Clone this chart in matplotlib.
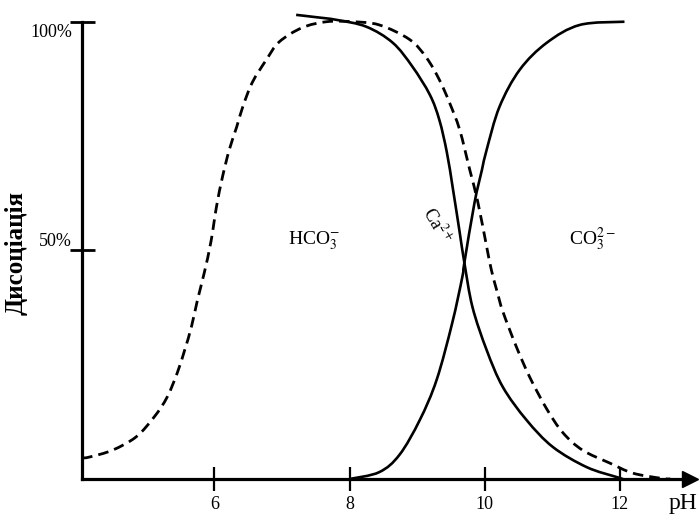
# Діаграма дисоціації: частки HCO3-, CO3 2- та Ca2+ залежно від pH
import matplotlib
matplotlib.use("Agg")
import matplotlib.pyplot as plt
from matplotlib.path import Path
from matplotlib.patches import PathPatch

plt.rcParams["font.family"] = ["Liberation Serif", "DejaVu Serif"]
plt.rcParams["mathtext.fontset"] = "stix"

# --- дані (pH, %) ---
hco3_ph = [4.04, 4.15, 4.49, 4.84, 5.11, 5.30, 5.45, 5.56, 5.66, 5.75, 5.85,
           5.95, 6.03, 6.12, 6.22, 6.33, 6.42, 6.56, 6.77, 6.96, 7.30, 7.66,
           8.04, 8.44, 8.89, 9.14, 9.33, 9.48, 9.63, 9.78, 9.90, 10.03, 10.10,
           10.19, 10.27, 10.47, 10.67, 10.92, 11.16, 11.45, 11.85, 12.19,
           12.59, 12.75]
hco3_pct = [4.6, 4.8, 6.3, 9.2, 13.6, 17.9, 23.2, 28.2, 33.3, 39.2, 45.1,
            52.0, 59.5, 66.1, 72.0, 77.0, 81.4, 86.7, 91.7, 95.6, 98.7, 100.0,
            100.0, 99.3, 96.1, 92.1, 87.3, 82.3, 76.4, 67.6, 60.5, 50.8, 45.7,
            40.7, 36.6, 28.9, 22.2, 15.3, 10.1, 6.3, 3.5, 1.3, 0.2, 0.0]

ca_ph = [7.21, 7.50, 7.81, 8.25, 8.64, 8.93, 9.19, 9.33, 9.44, 9.53, 9.63,
         9.70, 9.82, 10.03, 10.27, 10.62, 11.01, 11.51, 11.96, 12.05]
ca_pct = [101.5, 101.0, 100.4, 98.9, 95.4, 90.2, 84.0, 78.5, 71.5, 63.5, 54.0,
          47.3, 37.6, 28.2, 20.1, 12.9, 7.0, 2.6, 0.4, 0.0]

co3_ph = [8.00, 8.44, 8.74, 9.04, 9.29, 9.52, 9.67, 9.70, 9.85, 9.96, 10.03,
          10.22, 10.52, 10.92, 11.41, 12.07]
co3_pct = [0.0, 1.5, 5.3, 12.9, 21.7, 34.1, 44.2, 47.3, 60.4, 67.6, 72.0,
           81.4, 89.5, 95.4, 99.3, 100.0]

x_ticks = [6, 8, 10, 12]
y_ticks = [50, 100]
y_tick_labels = ["50%", "100%"]


def smooth_path(xs, ys):
    """Крива Катмулла-Рома через зчитані точки (кубічні сегменти Безьє)."""
    pts = list(zip(xs, ys))
    verts = [pts[0]]
    codes = [Path.MOVETO]
    n = len(pts)
    for i in range(n - 1):
        p0 = pts[i - 1] if i > 0 else pts[i]
        p1 = pts[i]
        p2 = pts[i + 1]
        p3 = pts[i + 2] if i + 2 < n else pts[i + 1]
        c1 = (p1[0] + (p2[0] - p0[0]) / 6, p1[1] + (p2[1] - p0[1]) / 6)
        c2 = (p2[0] - (p3[0] - p1[0]) / 6, p2[1] - (p3[1] - p1[1]) / 6)
        verts += [c1, c2, p2]
        codes += [Path.CURVE4] * 3
    return Path(verts, codes)


fig = plt.figure(figsize=(6.99, 5.15), dpi=100)
W, H = 699, 515
ax = fig.add_axes([82 / W, (H - 479) / H, (690 - 82) / W, (479 - 8) / H])
ax.set_xlim(4.04, 13.04)
ax.set_ylim(0, 103)

ax.add_patch(PathPatch(smooth_path(hco3_ph, hco3_pct), fill=False,
                       edgecolor="black", lw=2.0, linestyle=(0, (3.8, 2.2)),
                       capstyle="butt"))
ax.add_patch(PathPatch(smooth_path(ca_ph, ca_pct), fill=False,
                       edgecolor="black", lw=1.9))
ax.add_patch(PathPatch(smooth_path(co3_ph, co3_pct), fill=False,
                       edgecolor="black", lw=1.9))

# осі
for s in ["top", "right"]:
    ax.spines[s].set_visible(False)
ax.spines["left"].set_linewidth(2.3)
ax.spines["bottom"].set_linewidth(2.3)
ax.spines["left"].set_bounds(0, 100)
ax.plot([1], [0], marker=">", color="black", markersize=11,
        transform=ax.transAxes, clip_on=False)

ax.set_xticks(x_ticks)
ax.set_xticklabels([str(t) for t in x_ticks], fontsize=13)
ax.tick_params(axis="x", direction="inout", length=17, width=1.6, pad=4)
ax.set_yticks(y_ticks)
ax.set_yticklabels([])
ax.tick_params(axis="y", direction="inout", length=18, width=2.0)

ax.text(-10 / 608, 52.0, y_tick_labels[0], transform=ax.get_yaxis_transform(),
        ha="right", va="center", fontsize=13)
ax.text(-10 / 608, 97.6, y_tick_labels[1], transform=ax.get_yaxis_transform(),
        ha="right", va="center", fontsize=13)

fig.text(16 / W, 1 - 253 / H, "Дисоціація", rotation=90, ha="center",
         va="center", fontsize=18, fontweight="bold")
fig.text(683 / W, 1 - 504 / H, "pH", ha="center", va="center", fontsize=17)

# підписи кривих
ax.text(7.48, 52.0, r"HCO$_3^{-}$", ha="center", va="center", fontsize=14)
ax.text(9.30, 55.5, r"Ca$^{2+}$", ha="center", va="center", fontsize=13,
        rotation=-60)
ax.text(11.6, 52.5, r"CO$_3^{2-}$", ha="center", va="center", fontsize=14)

fig.savefig("out.png", dpi=100)
